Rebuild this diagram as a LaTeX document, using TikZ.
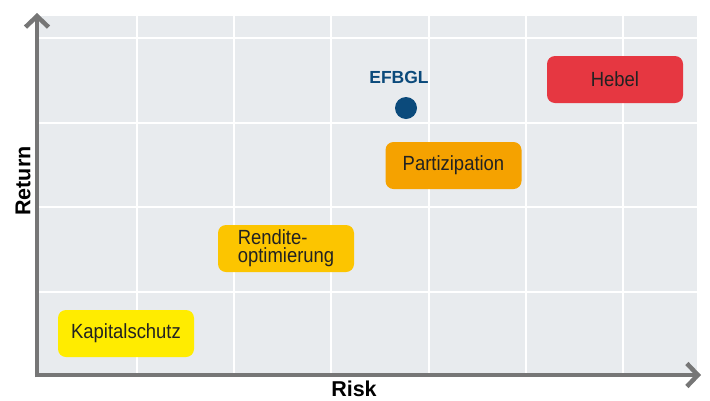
\documentclass[tikz,border=0pt]{standalone}
\usepackage{fontspec}
\setmainfont{Liberation Sans}
\newfontfamily\narrowfont[FakeStretch=0.9]{Liberation Sans}
\usetikzlibrary{arrows.meta}
\definecolor{panelbg}{HTML}{E8EBEE}
\definecolor{axisgray}{HTML}{767676}
\definecolor{hebelred}{HTML}{E63741}
\definecolor{partorange}{HTML}{F5A200}
\definecolor{rendyellow}{HTML}{FCC500}
\definecolor{kapyellow}{HTML}{FFEC00}
\definecolor{efblue}{HTML}{0B4A7B}
\definecolor{boxtext}{HTML}{222222}
\tikzset{
  catbox/.style={rounded corners=8pt, minimum width=136pt, minimum height=47pt,
    inner sep=0pt, text=boxtext, font=\narrowfont\fontsize{20.5}{18}\selectfont, align=left},
  axisline/.style={line width=4.5pt, draw=axisgray,
    -{Straight Barb[length=11pt,width=23pt]}},
  gridline/.style={draw=white, line width=1.6pt},
  axislabel/.style={font=\fontsize{21.5}{22}\selectfont\bfseries, text=black}
}
\begin{document}
\begin{tikzpicture}[x=1pt,y=-1pt]
\useasboundingbox (0,0) rectangle (710,400);
\fill[panelbg] (37,16) rectangle (697,375);
\foreach \gx in {137,234,331,429,526,623}
  \draw[gridline] (\gx,16) -- (\gx,375);
\foreach \gy in {38,123,207,292}
  \draw[gridline] (37,\gy) -- (697,\gy);
\coordinate (origin) at (37,375);
\coordinate (ytip) at (37,13);
\coordinate (xtip) at (701,375);
\coordinate (ystart) at (37,377.25);
\coordinate (xstart) at (34.75,375);
\draw[axisline] (ystart) -- (ytip);
\draw[axisline] (xstart) -- (xtip);
\node[axislabel, rotate=90] (returnlbl) at (23,181) {Return};
\node[axislabel] (risklbl) at (354,388.5) {Risk};
\node[catbox, fill=hebelred] (hebel) at (615,79.5) {Hebel};
\node[catbox, fill=partorange] (partizipation) at (453.5,165.5) {Partizipation};
\node[catbox, fill=rendyellow] (rendite) at (286,248.5) {Rendite-\\optimierung};
\node[catbox, fill=kapyellow] (kapital) at (126,333.5) {Kapitalschutz};
\node[font=\fontsize{17.5}{18}\selectfont\bfseries, text=efblue] (efbgl) at (399,77) {EFBGL};
\fill[efblue] (406,108) circle (11pt);
\node[circle, minimum size=22pt, inner sep=0pt] (efdot) at (406,108) {};
\end{tikzpicture}
\end{document}
